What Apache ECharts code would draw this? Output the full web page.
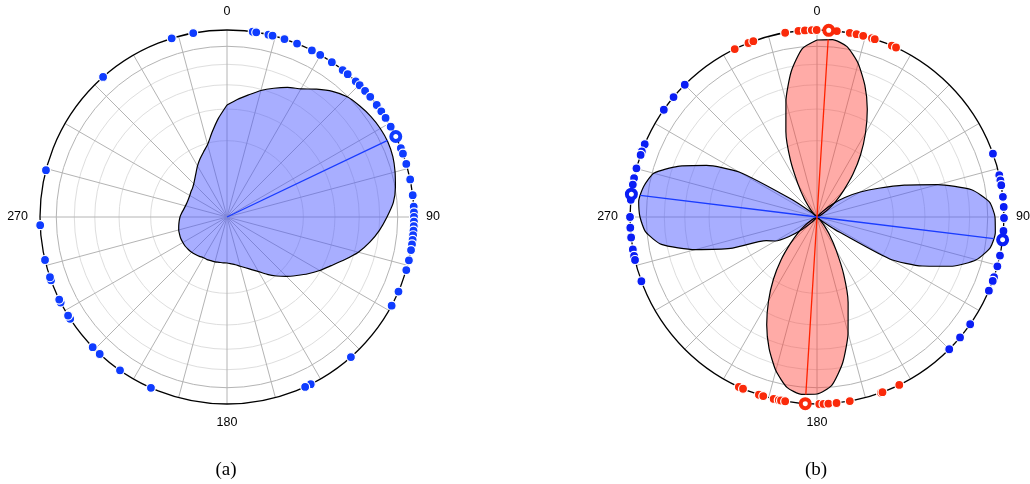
<!DOCTYPE html>
<html>
<head>
<meta charset="utf-8">
<script src="https://cdn.jsdelivr.net/npm/echarts@6/dist/echarts.min.js"></script>
<style>
html,body{margin:0;padding:0;background:#fff;}
#c{width:1030px;height:484px;}
</style>
</head>
<body>
<div id="c"></div>
<script>
// ---------- DATA ----------
const ANGLES = [0,5,10,15,20,25,30,35,40,45,50,55,60,65,70,75,80,85,90,95,100,105,110,115,120,125,130,135,140,145,150,155,160,165,170,175,
  180,185,190,195,200,205,210,215,220,225,230,235,240,245,250,255,260,265,270,275,280,285,290,295,300,305,310,315,320,325,330,335,340,345,350,355];
const ANGLE_LABELS = ['0','90','180','270'];
const CAPTIONS = ['(a)','(b)'];

// (a) density (outer ring = 187)
const A_DENSITY = [112,118,124,131,137,143,148,156,164,170,173,175.5,177,177.5,176.5,174,171,167,160,153,145,136,125,115,107,99,91,84,77,70,63,58,54,51,48.5,47,
  46,46,46,46.5,46.5,47,47,48,49,50,50.5,51,51,51,50.5,50,49,48,47,45.5,44,43,42.5,42.5,43,44,45,47,50,54,59,64,69,75,86,99];
const A_POINTS = [342.8,349.6,7.9,9.0,12.8,14.1,17.9,22.0,27.0,29.9,34.1,38.2,40.2,43.5,45.2,47.6,50.0,53.2,55.6,58.0,61.1,68.4,70.2,73.5,78.4,
  83.3,86.8,88.6,90.0,91.4,92.8,94.2,95.6,97.0,98.4,100.2,103.4,106.5,113.5,118.3,138.5,153.4,155.3,204.0,214.9,222.9,225.9,237.0,238.2,
  242.8,243.8,250.2,251.2,256.7,267.5,284.5,318.5];
const A_MEAN_ANGLE = [64.5];
const A_MEAN_LENGTH = 178;

// (b) densities
const B_BLUE_DENSITY = [1,1,1,1,1,1,1,1,2,8,20,34,50,68,93,125,157,173,178,179,176,165,144,116,84,22,6,2,1,1,1,1,1,1,1,1,
  1,1,1,1,1,1,1,1,2,8,20,34,48,56,92,126,158,172,177,179,176,169,148,122,90,30,7,2,1,1,1,1,1,1,1,1];
const B_RED_DENSITY = [177,178,173,159,140,119,97,76,56,38,25,15,7,3,1,1,1,1,1,1,1,1,1,1,1,1,2,5,11,22,38,63,91,120,148,169,
  177,178,173,159,140,119,97,76,56,38,25,15,7,3,1,1,1,1,1,1,1,1,1,1,1,1,2,5,11,22,38,63,91,120,148,169];
const B_BLUE_POINTS = [315,309.9,305,292.9,290.5,289.4,285.1,282,280,275.3,270,266.7,263.7,260,258,256.7,249.9,
  70.2,77.1,78.7,80.2,83.8,86.9,90.3,94.3,101.9,105.3,108.8,110,113.2,125,130.1,135];
const B_RED_POINTS = [333.9,338.5,340.1,350.2,354.3,356.3,358.4,359.9,6.1,10.1,12.2,14.3,17.1,18.0,23.6,25.0,
  204.7,203.3,198.1,196.7,193.4,191.8,191.1,189.8,179.3,178.0,176.5,174.0,169.9,160.0,159.5,153.9];
const B_BLUE_MEAN = [97, 277];
const B_RED_MEAN = [3.6, 183.6];
const B_MEAN_LENGTH = 178;

// ---------- STYLE / LAYOUT ----------
const R = 187;
const CENTERS = [[227,217],[817,217]];
const CAPTION_X = [226, 816];
const RINGS = [1,2,3,4,5]; // equal-area rings (k/6)
const BLUE = '#0f3cff', BLUE2 = '#0a1ef5', RED = '#fa2a0a';

const polar = [], angleAxis = [], radiusAxis = [];
CENTERS.forEach((c, i) => {
  polar.push({center: c, radius: R});
  angleAxis.push({
    polarIndex: i, type: 'value', min: 0, max: 360, interval: 15, startAngle: 90, clockwise: true,
    axisLine: {lineStyle: {color: '#000', width: 1.3}},
    axisTick: {show: false},
    splitLine: {lineStyle: {color: '#b4b4b4', width: 1}},
    axisLabel: {
      margin: 12, color: '#000', fontSize: 12.5, fontFamily: 'Liberation Sans',
      formatter: v => (v % 90 === 0 && v < 360) ? ANGLE_LABELS[v / 90] : ''
    },
    z: 1
  });
  radiusAxis.push({polarIndex: i, type: 'value', min: 0, max: R, axisLine: {show: false}, axisTick: {show: false},
    axisLabel: {show: false}, splitLine: {show: false}});
});
let pi = 2;
CENTERS.forEach(c => {
  RINGS.forEach(k => {
    polar.push({center: c, radius: R * Math.sqrt(k / 6)});
    angleAxis.push({polarIndex: pi, type: 'value', min: 0, max: 360, startAngle: 90,
      axisLine: {lineStyle: {color: k === 5 ? '#b4b4b4' : '#dedede', width: 1}},
      axisTick: {show: false}, axisLabel: {show: false}, splitLine: {show: false}, z: 0});
    radiusAxis.push({polarIndex: pi, type: 'value', min: 0, max: 1, show: false,
      axisLine: {show: false}, axisTick: {show: false}, axisLabel: {show: false}, splitLine: {show: false}});
    pi++;
  });
});

function densitySeries(polarIndex, vals, color) {
  const d = ANGLES.map((a, i) => [vals[i], a]);
  d.push([vals[0], 360]);
  return {type: 'line', coordinateSystem: 'polar', polarIndex, data: d, smooth: 0.2, showSymbol: false, symbol: 'none',
    lineStyle: {color: '#000', width: 1.2, join: 'round'}, areaStyle: {color, opacity: 1}, z: 2, silent: true};
}
function meanLine(polarIndex, angles, len, color) {
  const d = angles.length === 1 ? [[0, angles[0]], [len, angles[0]]] : [[len, angles[1]], [0, angles[1]], [0, angles[0]], [len, angles[0]]];
  return {type: 'line', coordinateSystem: 'polar', polarIndex, data: d, showSymbol: false, symbol: 'none',
    lineStyle: {color, width: 1.3}, z: 3, silent: true};
}
function dots(polarIndex, angles, color, size) {
  return {type: 'scatter', coordinateSystem: 'polar', polarIndex, data: angles.map(a => [R, a]), symbol: 'circle', symbolSize: size,
    itemStyle: {color, borderColor: '#fff', borderWidth: 1.2, opacity: 1}, z: 4, silent: true};
}
function ring(polarIndex, angles, color) {
  return {type: 'scatter', coordinateSystem: 'polar', polarIndex, data: angles.map(a => [R, a]), symbol: 'circle', symbolSize: 9,
    itemStyle: {color: '#fff', borderColor: color, borderWidth: 4, opacity: 1}, z: 5, silent: true};
}

const series = [
  densitySeries(0, A_DENSITY, 'rgba(70,82,255,0.47)'),
  meanLine(0, A_MEAN_ANGLE, A_MEAN_LENGTH, '#1a3cff'),
  dots(0, A_POINTS, BLUE, 9),
  ring(0, A_MEAN_ANGLE, BLUE),
  densitySeries(1, B_BLUE_DENSITY, 'rgba(70,82,255,0.47)'),
  densitySeries(1, B_RED_DENSITY, 'rgba(255,60,50,0.43)'),
  meanLine(1, B_BLUE_MEAN, B_MEAN_LENGTH, '#1a3cff'),
  meanLine(1, B_RED_MEAN, B_MEAN_LENGTH, '#ff2200'),
  dots(1, B_BLUE_POINTS, BLUE2, 9),
  dots(1, B_RED_POINTS, RED, 9),
  ring(1, B_BLUE_MEAN, BLUE2),
  ring(1, B_RED_MEAN, RED)
];

const chart = echarts.init(document.getElementById('c'), null, {renderer: 'canvas'});
chart.setOption({
  animation: false,
  backgroundColor: '#fff',
  polar, angleAxis, radiusAxis, series,
  graphic: CAPTIONS.map((t, i) => ({type: 'text', x: CAPTION_X[i], y: 470,
    style: {text: t, font: '19px "Liberation Serif"', fill: '#000', textAlign: 'center', textVerticalAlign: 'middle'}}))
});
</script>
</body>
</html>
